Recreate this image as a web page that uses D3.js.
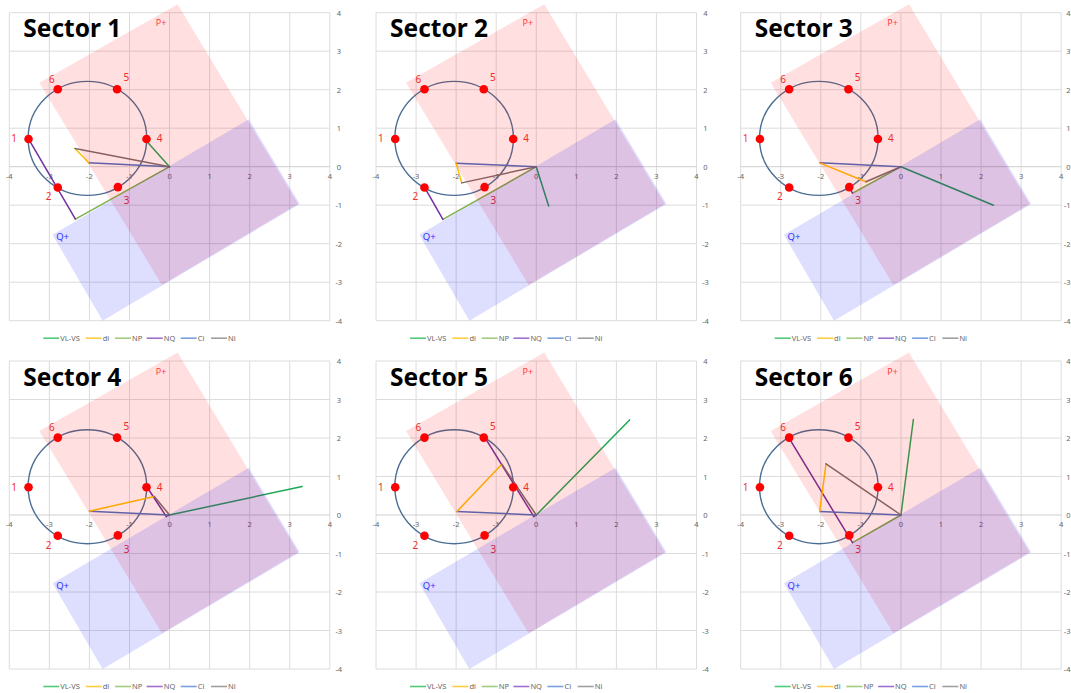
<!DOCTYPE html>
<html>
<head>
<meta charset="utf-8">
<script src="https://cdn.jsdelivr.net/npm/d3@7"></script>
<style>
  html, body { margin: 0; padding: 0; background: #ffffff; }
  svg { display: block; }
</style>
</head>
<body>
<svg id="chart" width="1071" height="693"></svg>
<script>
// Six sector diagrams of converter voltage vectors on a P/Q plane.
const sectors = ["Sector 1", "Sector 2", "Sector 3", "Sector 4", "Sector 5", "Sector 6"];
const xTicks = [-4, -3, -2, -1, 0, 1, 2, 3, 4];
const yTicks = [-4, -3, -2, -1, 0, 1, 2, 3, 4];

const seriesNames = ["VL-VS", "di", "NP", "NQ", "Ci", "Ni"];
const seriesColors = ["#1fa855", "#ffc000", "#7fb24a", "#7030a0", "#4a6fc0", "#7a6d6d"];
const legendColors = ["#4fcb7a", "#ffcc44", "#a0cc80", "#a070d0", "#7aa0e0", "#a0a0a0"];

// Vector end points, one per sector (x, y)
const vlvsEnd = [[-0.65, 0.75], [0.31, -1.02], [2.31, -1.0], [3.31, 0.74], [2.33, 2.47], [0.31, 2.48]];
const ciEnd   = [[-2.02, 0.10], [-2.0, 0.09], [-2.03, 0.10], [-2.0, 0.10], [-1.98, 0.09], [-2.03, 0.09]];
const niEnd   = [[-2.36, 0.47], [-1.86, -0.42], [-0.875, -0.39], [-0.38, 0.48], [-0.86, 1.32], [-1.87, 1.33]];
const npEnd   = [[-2.35, -1.36], [-2.33, -1.37], [-1.21, -0.69], [-0.08, -0.04], [-0.06, -0.04], [-1.21, -0.72]];
const nqEnd   = [[-3.52, 0.72], [-2.78, -0.55], [-1.29, -0.52], [-0.56, 0.72], [-1.28, 2.01], [-2.8, 2.01]];

// Switching states on the circle
const nodeLabels = ["1", "2", "3", "4", "5", "6"];
const nodeX = [-3.52, -2.79, -1.29, -0.575, -1.31, -2.79];
const nodeY = [0.72, -0.54, -0.53, 0.72, 2.01, 2.01];
const nodeLabelX = [-3.88, -3.02, -1.07, -0.25, -1.08, -2.94];
const nodeLabelY = [0.72, -0.78, -0.89, 0.72, 2.31, 2.27];
const circleCenter = [-2.05, 0.735];
const circleRadius = 1.48;

// Operating regions
const pRegion = [[-3.25, 2.18], [0.2, 4.22], [3.21, -0.97], [-0.19, -3.07]];
const qRegion = [[-2.92, -1.77], [1.98, 1.23], [3.25, -0.97], [-1.67, -4.0]];
const pLabel = [-0.21, 3.74];
const qLabel = [-2.67, -1.82];

const svg = d3.select("#chart");
const colX = [9.3, 376, 740.7];
const rowY = [12.7, 361];
const plotW = 320.5, plotH = 308;
const font = "'Noto Sans', 'Noto Sans CJK KR', sans-serif";

sectors.forEach((name, i) => {
  const col = i % 3;
  const ox = colX[col], oy = rowY[Math.floor(i / 3)];
  const x = d3.scaleLinear().domain([-4, 4]).range([0, plotW]);
  const y = d3.scaleLinear().domain([-4, 4]).range([plotH, 0]);
  const g = svg.append("g").attr("transform", `translate(${ox},${oy})`);

  // grid
  g.append("g").selectAll("line").data(xTicks).join("line")
    .attr("x1", d => x(d)).attr("x2", d => x(d))
    .attr("y1", 0).attr("y2", plotH)
    .attr("stroke", "#dcdcdc").attr("stroke-width", 1);
  g.append("g").selectAll("line").data(yTicks).join("line")
    .attr("y1", d => y(d)).attr("y2", d => y(d))
    .attr("x1", 0).attr("x2", plotW)
    .attr("stroke", d => d === 0 ? "#cfcfcf" : "#dcdcdc").attr("stroke-width", 1);

  // tick labels
  g.append("g").selectAll("text").data(xTicks).join("text")
    .attr("x", d => x(d)).attr("y", y(0) + 12)
    .attr("text-anchor", "middle")
    .attr("font-family", font).attr("font-size", 7.5).attr("fill", "#666")
    .text(d => d);
  // the right-most panel keeps its value labels inside the page edge
  const lastCol = col === 2;
  g.append("g").selectAll("text").data(yTicks).join("text")
    .attr("x", lastCol ? 1070.5 - ox : plotW + 9).attr("y", d => y(d) + 3)
    .attr("text-anchor", lastCol ? "end" : "middle")
    .attr("font-family", font).attr("font-size", 7.5).attr("fill", "#666")
    .text(d => d);

  // circle of switching states
  g.append("ellipse")
    .attr("cx", x(circleCenter[0])).attr("cy", y(circleCenter[1]))
    .attr("rx", x(circleRadius) - x(0)).attr("ry", y(0) - y(circleRadius))
    .attr("fill", "none").attr("stroke", "#4a6e94").attr("stroke-width", 1.4);

  // vector segments
  const segs = [
    { s: 0, a: [0, 0], b: vlvsEnd[i] },
    { s: 2, a: [0, 0], b: npEnd[i] },
    { s: 3, a: npEnd[i], b: nqEnd[i] },
    { s: 4, a: [0, 0], b: ciEnd[i] },
    { s: 1, a: ciEnd[i], b: niEnd[i] },
    { s: 5, a: [0, 0], b: niEnd[i] }
  ];
  g.append("g").selectAll("line").data(segs).join("line")
    .attr("x1", d => x(d.a[0])).attr("y1", d => y(d.a[1]))
    .attr("x2", d => x(d.b[0])).attr("y2", d => y(d.b[1]))
    .attr("stroke", d => seriesColors[d.s]).attr("stroke-width", 1.5)
    .attr("stroke-linecap", "round");

  // nodes
  g.append("g").selectAll("circle").data(nodeLabels).join("circle")
    .attr("cx", (d, k) => x(nodeX[k])).attr("cy", (d, k) => y(nodeY[k]))
    .attr("r", 4.3).attr("fill", "#ff0000");
  g.append("g").selectAll("text").data(nodeLabels).join("text")
    .attr("x", (d, k) => x(nodeLabelX[k])).attr("y", (d, k) => y(nodeLabelY[k]) + 3.5)
    .attr("text-anchor", "middle")
    .attr("font-family", font).attr("font-size", 10).attr("fill", "#f03030")
    .text(d => d);

  // shaded regions
  const poly = d3.line().x(d => x(d[0])).y(d => y(d[1])).curve(d3.curveLinearClosed);
  g.append("path").attr("d", poly(pRegion)).attr("fill", "#ff0000").attr("fill-opacity", 0.125);
  g.append("path").attr("d", poly(qRegion)).attr("fill", "#0000ff").attr("fill-opacity", 0.13);

  g.append("text").attr("x", x(pLabel[0])).attr("y", y(pLabel[1]) + 3.5)
    .attr("text-anchor", "middle").attr("font-family", font).attr("font-size", 9)
    .attr("fill", "#ff4040").text("P+");
  g.append("text").attr("x", x(qLabel[0])).attr("y", y(qLabel[1]) + 3.5)
    .attr("text-anchor", "middle").attr("font-family", font).attr("font-size", 9.5)
    .attr("fill", "#3030ff").text("Q+");

  // title
  g.append("text").attr("x", 14).attr("y", 24.5)
    .attr("font-family", font).attr("font-weight", "bold").attr("font-size", 24.5)
    .attr("fill", "#000").text(name);

  // legend
  const lg = g.append("g").attr("transform", `translate(34,${plotH + 17.5})`);
  const legendOffsets = [0, 42.4, 71.7, 103.4, 137.4, 167.7];
  seriesNames.forEach((s, k) => {
    const it = lg.append("g").attr("transform", `translate(${legendOffsets[k]},0)`);
    it.append("line").attr("x1", 0).attr("x2", 16).attr("y1", 0).attr("y2", 0)
      .attr("stroke", legendColors[k]).attr("stroke-width", 1.6);
    it.append("text").attr("x", 17).attr("y", 2.7)
      .attr("font-family", font).attr("font-size", 7.5).attr("fill", "#666").text(s);
  });
});
</script>
</body>
</html>
